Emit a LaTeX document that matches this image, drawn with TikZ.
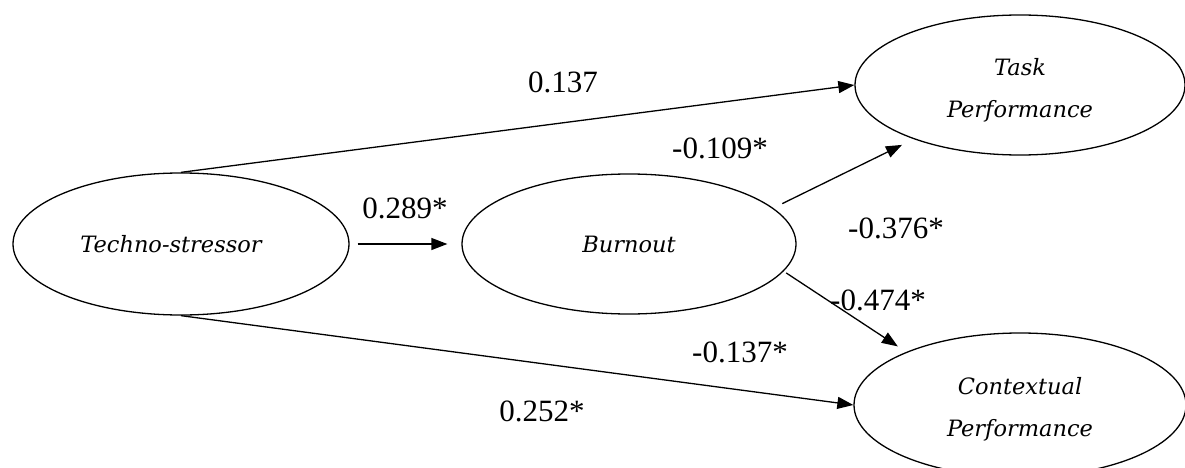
\documentclass[tikz,border=0pt]{standalone}
\usepackage{fontspec}
\setmainfont{Liberation Serif}
\newfontfamily\slabit{DejaVu Serif}
\usetikzlibrary{shapes.geometric,arrows.meta}
\begin{document}
\begin{tikzpicture}[x=1pt,y=-1pt,
  latent/.style={draw,ellipse,line width=1.3pt,inner sep=0pt,align=center,
    font=\slabit\fontsize{22.5}{42}\selectfont\itshape},
  path/.style={line width=1.3pt,-{Triangle[length=16pt,width=12pt]}},
  coef/.style={font=\fontsize{31}{36}\selectfont,inner sep=0pt}]
\useasboundingbox (0,0) rectangle (1185,468);
\node[latent,minimum width=336pt,minimum height=142pt] (T) at (181,244) {\hspace*{-20pt}Techno-stressor};
\node[latent,minimum width=334pt,minimum height=140pt] (B) at (629,244) {Burnout};
\node[latent,minimum width=330pt,minimum height=140pt] (TP) at (1020,85) {\rule{0pt}{28pt}Task\\Performance};
\node[latent,minimum width=332pt,minimum height=144pt] (CP) at (1020,405) {\rule{0pt}{26pt}Contextual\\Performance};
\draw[path] (T.north) -- (TP.west);
\draw[path] (T.south) -- (CP.west);
\draw[path,shorten <=8pt,shorten >=14pt] (T.east) -- (B.west);
\draw[path,shorten <=10pt,shorten >=13pt] (B.14) -- (TP.207);
\draw[path,shorten <=3pt,shorten >=10pt] (B.-10.5) -- (CP.155);
\node[coef] (l1) at (563,82) {0.137};
\node[coef] (l2) at (720,148) {-0.109*};
\node[coef] (l3) at (405,208) {0.289*};
\node[coef] (l4) at (896,228) {-0.376*};
\node[coef] (l5) at (878,300) {-0.474*};
\node[coef] (l6) at (740,352) {-0.137*};
\node[coef] (l7) at (542,411) {0.252*};
\end{tikzpicture}
\end{document}
